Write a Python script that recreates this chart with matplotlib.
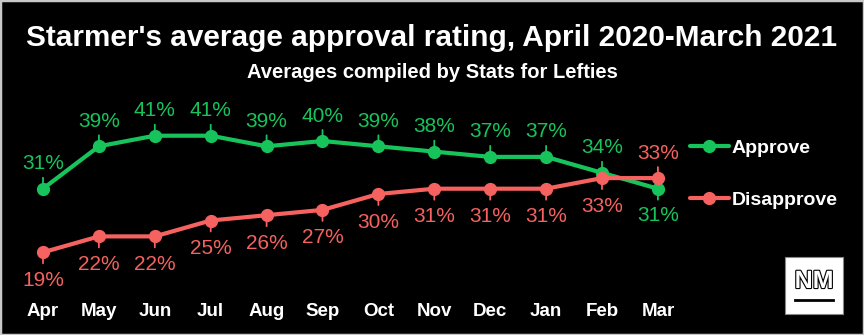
import matplotlib
matplotlib.use("Agg")
import matplotlib.pyplot as plt
import matplotlib.patheffects as pe
from matplotlib.patches import Rectangle

months = ["Apr", "May", "Jun", "Jul", "Aug", "Sep", "Oct", "Nov", "Dec", "Jan", "Feb", "Mar"]
approve = [31, 39, 41, 41, 39, 40, 39, 38, 37, 37, 34, 31]
disapprove = [19, 22, 22, 25, 26, 27, 30, 31, 31, 31, 33, 33]
# label placement: +1 above the point, -1 below
approve_side = [1, 1, 1, 1, 1, 1, 1, 1, 1, 1, 1, -1]
disapprove_side = [-1, -1, -1, -1, -1, -1, -1, -1, -1, -1, -1, 1]

GREEN = "#17c45c"
RED = "#f5625f"
W, H = 864, 335
DPI = 100

fig = plt.figure(figsize=(W / DPI, H / DPI), dpi=DPI, facecolor="black")
ax = fig.add_axes([0, 0, 1, 1])
ax.set_facecolor("black")
ax.set_axis_off()

# pixel mapping: x = 43 + 55.9*i ; y = 353 - 5.3*v
ax.set_xlim(-43 / 55.9, (W - 43) / 55.9)
ax.set_ylim((353 - H) / 5.3, 353 / 5.3)

xs = list(range(len(months)))
lab_font = ["Liberation Sans", "DejaVu Sans"]
bold_font = ["Liberation Sans", "DejaVu Sans"]
narrow = ["Liberation Sans Narrow", "Liberation Sans", "DejaVu Sans"]

for vals, sides, col, name, off_up, off_dn in [
    (approve, approve_side, GREEN, "Approve", 25, 27),
    (disapprove, disapprove_side, RED, "Disapprove", 25, 28),
]:
    ax.plot(xs, vals, color=col, lw=3, marker="o", markersize=8.5, zorder=3, label=name,
            solid_capstyle="round")
    for x, v, s in zip(xs, vals, sides):
        # small leader tick
        ax.annotate("", xy=(x, v), xytext=(0, s * 11 * 0.72), textcoords="offset points",
                    arrowprops=dict(arrowstyle="-", color=col, lw=1.3, shrinkA=0, shrinkB=0),
                    zorder=2)
        dy = (off_up if s > 0 else -off_dn) * 0.72
        ax.annotate(f"{v}%", xy=(x, v), xytext=(0, dy), textcoords="offset points",
                    ha="center", va="center", color=col, fontsize=15, family=lab_font,
                    zorder=4)

# month labels
for x, m in zip(xs, months):
    ax.text(x, (353 - 311) / 5.3, m, ha="center", va="center", color="white",
            fontsize=13.5, fontweight="bold", family=bold_font)

# titles
fig.text(0.5, 1 - 38 / H, "Starmer's average approval rating, April 2020-March 2021",
         ha="center", va="center", color="white", fontsize=21.4, fontweight="bold", family=narrow)
fig.text(0.5, 1 - 73 / H, "Averages compiled by Stats for Lefties",
         ha="center", va="center", color="white", fontsize=14.5, fontweight="bold", family=narrow)

# legend
leg = ax.legend(loc="upper left", bbox_to_anchor=(690 / W, 1 - 139 / H), frameon=False,
                handlelength=2.0, handletextpad=0.15, labelspacing=1.78, borderpad=0,
                borderaxespad=0, prop=dict(family=bold_font, weight="bold", size=14))
for t in leg.get_texts():
    t.set_color("white")

# logo
fig.patches.append(Rectangle((785 / W, 1 - 314 / H), 58 / W, 57 / H, transform=fig.transFigure,
                             facecolor="white", edgecolor="#888888", lw=0.8, zorder=5))
fig.text(814 / W, 1 - 281 / H, "NM", ha="center", va="center", color="white", fontsize=18,
         fontweight="bold", family=bold_font, zorder=6,
         path_effects=[pe.withStroke(linewidth=1.6, foreground="black")])
fig.add_artist(plt.Line2D([795 / W, 833 / W], [1 - 300 / H, 1 - 300 / H], color="black", lw=2,
                          transform=fig.transFigure, zorder=6))

# light frame
fig.patches.append(Rectangle((0, 0), 1, 1, transform=fig.transFigure, facecolor="none",
                             edgecolor="#c8c8c8", lw=2.5, zorder=10))

fig.savefig("out.png", dpi=DPI, facecolor="black")
